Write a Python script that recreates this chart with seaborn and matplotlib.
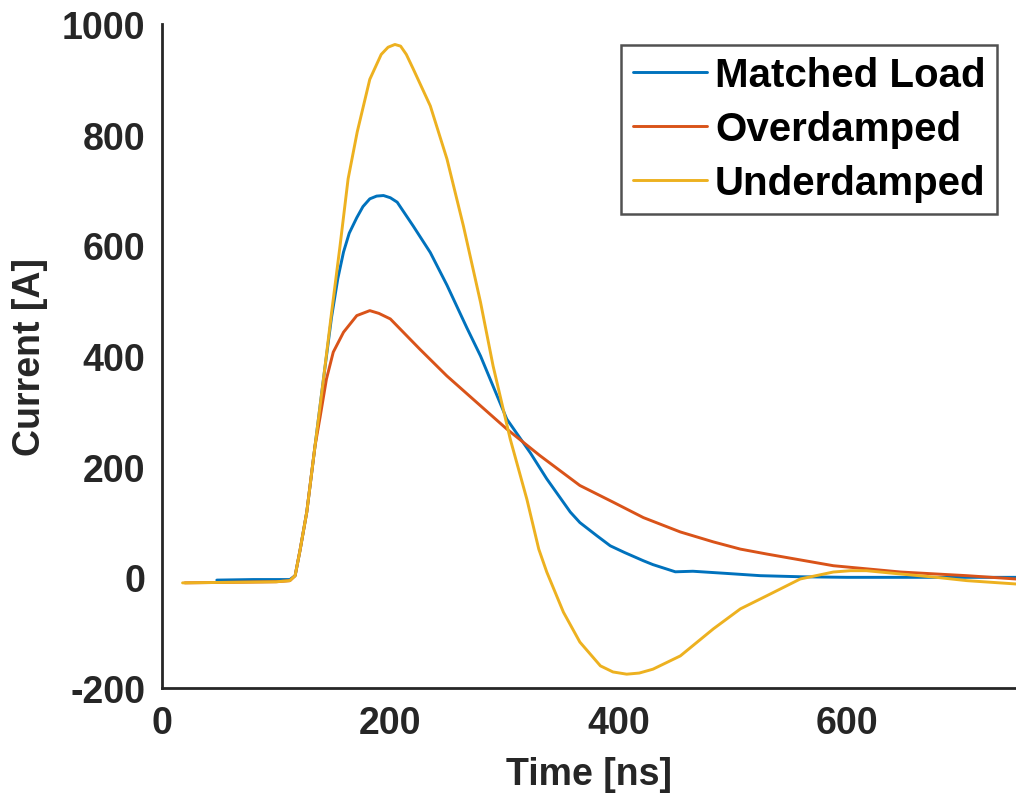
import matplotlib
matplotlib.use("Agg")
import matplotlib.pyplot as plt
import seaborn as sns
import pandas as pd

# ---- data ----
series_names = ["Matched Load", "Overdamped", "Underdamped"]
series_colors = ["#0072BD", "#D95319", "#EDB120"]

matched_t = [48, 80, 112, 116.6, 121, 126.8, 134, 141.4, 148.5, 154, 159, 164, 170.6, 176,
             182, 188, 194, 200, 206, 220, 235, 249.6, 267, 279, 302, 322.6, 337, 357.6,
             366, 381, 392.6, 405, 421.6, 430, 449.6, 465, 495, 524, 560, 600, 650, 700, 748]
matched_i = [-5, -4, -4, 3, 50, 118, 237, 358, 470, 540, 588, 622, 650, 670,
             684, 689, 690, 686, 678, 635, 587, 528, 451, 400, 286, 225, 178, 118,
             99, 75, 57, 45, 30, 23, 10, 11, 7, 3, 1, 0, 0, 0, 0]

over_t = [20, 60, 100, 112, 116.6, 121, 126.8, 134, 138.5, 144, 150, 159, 170.6, 182,
          190, 200, 217, 226, 249.5, 279, 302, 331, 366, 395, 421.6, 454, 483, 506.6,
          530, 588, 647, 705, 748]
over_i = [-10, -9, -8, -6, 3, 50, 118, 237, 290, 358, 407, 443, 473, 482,
          477, 467, 431, 412, 364, 310, 268, 220, 166, 136, 108, 82, 64, 51,
          42, 21, 9.6, 3, -3]

under_t = [18, 60, 100, 112, 116.6, 121, 126.8, 134, 141.4, 148.5, 156, 163, 171, 182,
           192, 198, 204, 209, 214, 220, 235, 249.6, 264, 279, 290, 305, 319.6, 330, 337,
           351.6, 366, 384, 395, 407, 418, 430, 454, 483, 506.6, 530, 559, 588, 603, 617,
           647, 676, 705, 748]
under_i = [-10, -9, -8, -6, 3, 50, 118, 237, 358, 478, 600, 720, 805, 900,
           945, 958, 963, 960, 945, 919, 852, 756, 635, 497, 382, 250, 141, 51, 9.6,
           -63, -117, -160, -171, -175, -173, -166, -142, -93, -57, -33, -3, 9.6, 12, 12,
           6, 0.5, -6, -12]

x_ticks = [0, 200, 400, 600]
y_ticks = [-200, 0, 200, 400, 600, 800, 1000]

frames = []
for name, t, i in zip(series_names, [matched_t, over_t, under_t],
                      [matched_i, over_i, under_i]):
    frames.append(pd.DataFrame({"Time": t, "Current": i, "Series": name}))
df = pd.concat(frames, ignore_index=True)

# ---- styling ----
sns.set_theme(style="white")
plt.rcParams["font.family"] = ["Liberation Sans", "DejaVu Sans"]
plt.rcParams["font.weight"] = "bold"
dark = "#262626"

fig = plt.figure(figsize=(10.16, 8.03), dpi=100)
ax = fig.add_axes([162 / 1016, 1 - 689 / 803, 1 - 162 / 1016, (689 - 25) / 803])

sns.lineplot(data=df, x="Time", y="Current", hue="Series",
             hue_order=series_names, palette=series_colors,
             estimator=None, sort=False, linewidth=2.1, ax=ax, legend=False)

ax.set_xlim(0, 748)
ax.set_ylim(-200, 1000)
ax.set_xticks(x_ticks)
ax.set_yticks(y_ticks)
ax.set_xticklabels([str(v) for v in x_ticks])
ax.set_yticklabels([str(v) for v in y_ticks])
ax.tick_params(direction="in", length=9, width=2, colors=dark,
               labelsize=27, pad=12)
for lab in ax.get_xticklabels() + ax.get_yticklabels():
    lab.set_fontweight("bold")

for side in ["top", "right"]:
    ax.spines[side].set_visible(False)
for side in ["left", "bottom"]:
    ax.spines[side].set_color(dark)
    ax.spines[side].set_linewidth(2)

ax.set_xlabel("Time [ns]", fontsize=27, fontweight="bold", color=dark, labelpad=11)
ax.set_ylabel("Current [A]", fontsize=27, fontweight="bold", color=dark, labelpad=10)

handles = ax.get_lines()[:3]
leg = ax.legend(handles, series_names, loc="upper right",
                bbox_to_anchor=(997 / 1016, 1 - 46 / 803),
                bbox_transform=fig.transFigure,
                prop={"size": 29, "weight": "bold"},
                frameon=True, fancybox=False, handlelength=1.85,
                handletextpad=0.2, labelspacing=0.4, borderpad=0.28,
                borderaxespad=0)
leg.get_frame().set_edgecolor(dark)
leg.get_frame().set_linewidth(1.8)
for t in leg.get_texts():
    t.set_color("black")

fig.savefig("out.png", dpi=100)
